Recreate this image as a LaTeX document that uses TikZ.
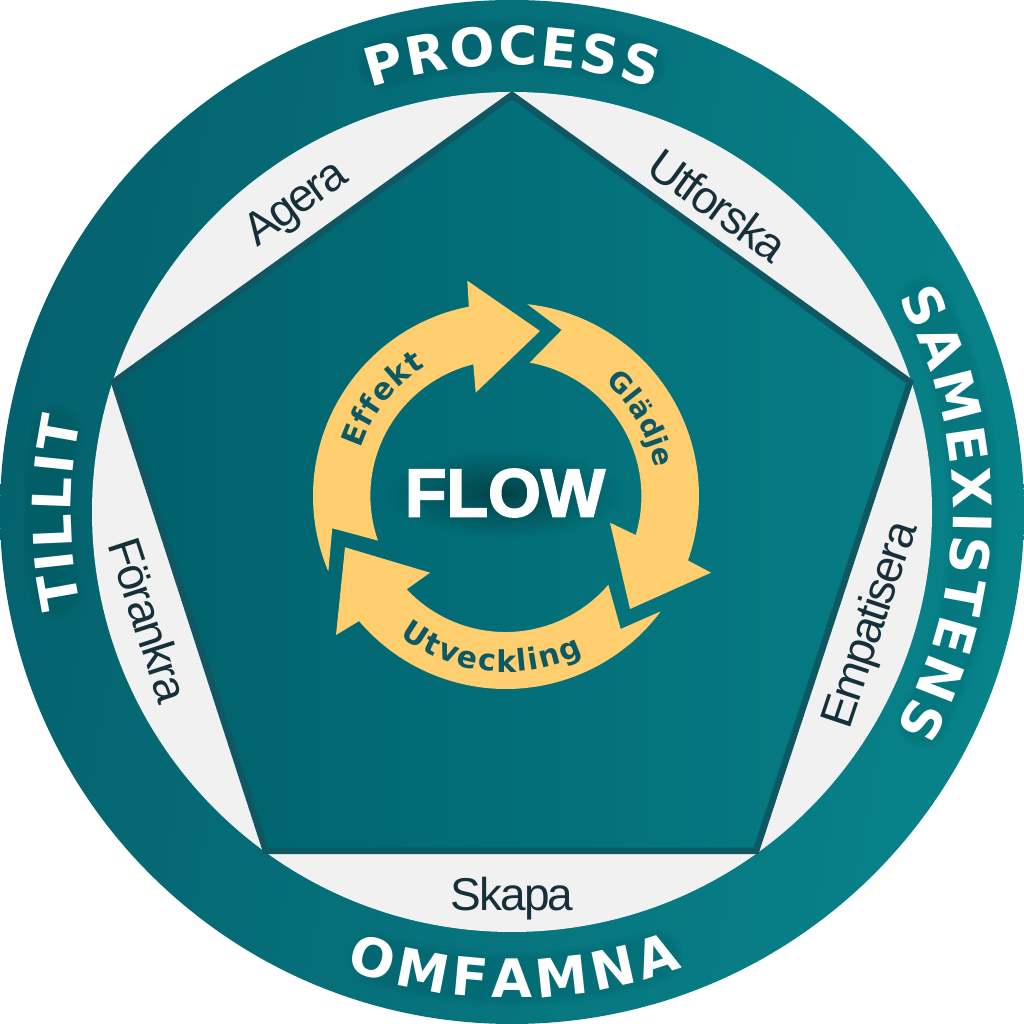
\documentclass[tikz,border=0pt]{standalone}
\usepackage{fontspec}
\setmainfont{Liberation Sans}
\newfontfamily\heavy[BoldFeatures={FakeBold=2.5}]{Liberation Sans}
\newfontfamily\wide{DejaVu Sans}
\newfontfamily\lightf[LetterSpace=-4.5]{Liberation Sans}
\usetikzlibrary{decorations.text,fadings}
\definecolor{ringL}{HTML}{04626E}
\definecolor{ringM}{HTML}{007079}
\definecolor{ringR}{HTML}{08838A}
\definecolor{pentL}{HTML}{00606B}
\definecolor{pentM}{HTML}{00707A}
\definecolor{pentR}{HTML}{067D85}
\definecolor{edge}{HTML}{0E5763}
\definecolor{paper}{HTML}{F1F1F1}
\definecolor{sun}{HTML}{FFCE6E}
\definecolor{ink}{HTML}{0D5865}
\definecolor{labelink}{HTML}{15303A}
\tikzfading[name=softglow, inner color=transparent!60, outer color=transparent!100]
\tikzset{
  x=1pt,y=1pt,
  flowarrow/.style={fill=sun},
  stationlabel/.style={font=\lightf\fontsize{46}{46}\selectfont, text=labelink, inner sep=0pt},
  ringtext/.style={decorate,decoration={text along path,text align={fit to path},
     text={|\wide\bfseries\fontsize{53}{53}\selectfont\color{white}|#1}}},
  looptext/.style={decorate,decoration={text along path,text align={fit to path},
     text={|\wide\bfseries\fontsize{30}{30}\selectfont\color{ink}|#1}}},
  looptextsmall/.style={decorate,decoration={text along path,text align={fit to path},
     text={|\wide\bfseries\fontsize{28}{28}\selectfont\color{ink}|#1}}},
  ringglow/.style={draw=black,opacity=0.02,line cap=round}
}
\begin{document}
\begin{tikzpicture}
\useasboundingbox (0,0) rectangle (1024,1024);
\fill[white] (0,0) rectangle (1024,1024);
\coordinate (C) at (512,512);
\coordinate (L) at (506,528);
% ring and inner disc
\shade[left color=ringL,middle color=ringM,right color=ringR,shading angle=80] (C) circle (512);
\fill[paper] (C) circle (420);
% pentagon
\coordinate (pT) at (512,929);
\coordinate (pR) at (910,642);
\coordinate (pBR) at (756,173);
\coordinate (pBL) at (266,173);
\coordinate (pL) at (114,642);
\shade[left color=pentL,middle color=pentM,right color=pentR] (pT) -- (pR) -- (pBR) -- (pBL) -- (pL) -- cycle;
\draw[edge,line width=6.5pt,line join=miter] (pT) -- (pR) -- (pBR) -- (pBL) -- (pL) -- cycle;
% soft shadows behind ring lettering
\foreach \w in {42,48,54}{
  \draw[ringglow,line width=\w pt] (C)++(106:467) arc[start angle=106,end angle=74,radius=467];
  \draw[ringglow,line width=\w pt] (C)++(27:462) arc[start angle=27,end angle=-27,radius=462];
  \draw[ringglow,line width=\w pt] (C)++(190:462) arc[start angle=190,end angle=170,radius=462];
  \draw[ringglow,line width=\w pt] (C)++(253:467) arc[start angle=253,end angle=288,radius=467];
}
% ring lettering
\path[ringtext=PROCESS] (C)++(108.5:447) arc[start angle=108.5,end angle=71.5,radius=447];
\path[ringtext=SAMEXISTENS] (C)++(29:441) arc[start angle=29,end angle=-29.5,radius=441];
\path[ringtext=TILLIT] (C)++(192.4:441) arc[start angle=192.4,end angle=167.8,radius=441];
\path[ringtext=OMFAMNA] (C)++(250:486) arc[start angle=250,end angle=290.5,radius=486];
% labels on the light band
\node[stationlabel,rotate=36] (agera) at (297,819) {Agera};
\node[stationlabel,rotate=-36] (utforska) at (718,819) {Utforska};
\node[stationlabel,rotate=71.5] (empatisera) at (872,399) {Empatisera};
\node[stationlabel,rotate=-72] (forankra) at (149,404) {Förankra};
\node[stationlabel] (skapa) at (512,125) {Skapa};
% loop arrows
\fill[flowarrow] (L)++(203:193) arc[start angle=203,end angle=101.1,radius=193]
   -- (467.3,743.3) -- (540,693) -- (475.7,631.3) -- (473.3,659.7)
   arc[start angle=103.9,end angle=199.3,radius=135.5] -- (332.3,495.7) -- cycle;
\fill[flowarrow] (L)++(83.66:193) arc[start angle=83.66,end angle=-19.5,radius=193]
   -- (711,451.3) -- (630,415) -- (610,501.3) -- (635.7,489)
   arc[start angle=-16.7,end angle=79.9,radius=135.5] -- (561.7,694) -- cycle;
\fill[flowarrow] (L)++(-36.7:193) arc[start angle=-36.7,end angle=-139.6,radius=193]
   -- (336,389) -- (345,476.7) -- (430,451.3) -- (406.7,434.7)
   arc[start angle=-136.8,end angle=-40.6,radius=135.5] -- (620.7,395) -- cycle;
% loop lettering
\path[looptext=Effekt] (L)++(162:153) arc[start angle=162,end angle=122,radius=153];
\path[looptextsmall=Glädje] (L)++(49:151) arc[start angle=49,end angle=10.5,radius=151];
\path[looptext=Utveckling] (L)++(233:176) arc[start angle=233,end angle=296,radius=176];
% centre word
\fill[black,path fading=softglow] (505,530) ellipse (118 and 44);
\node[font=\heavy\bfseries\fontsize{68}{68}\selectfont,text=white,inner sep=0pt] (flow) at (505,531) {FLOW};
\end{tikzpicture}
\end{document}
